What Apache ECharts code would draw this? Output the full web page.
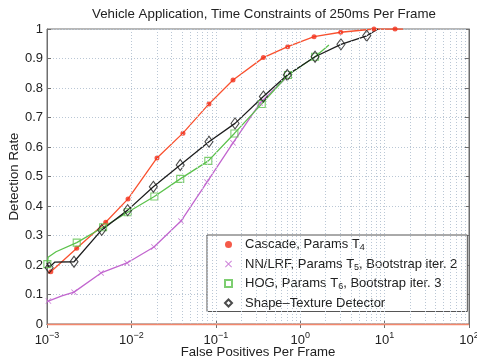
<!DOCTYPE html>
<html>
<head>
<meta charset="utf-8">
<script src="https://cdn.jsdelivr.net/npm/echarts@6/dist/echarts.min.js"></script>
<style>html,body{margin:0;padding:0;background:#fff}#c{width:477px;height:364px}</style>
</head>
<body>
<div id="c"></div>
<script>
// ---- data ----
const cascadePathX = [0.00103, 0.00111, 0.00225, 0.00496, 0.00912, 0.0201, 0.0408, 0.0830, 0.160, 0.366, 0.711, 1.46, 3.02, 7.48, 13.3, 16.5];
const cascadePathY = [0.172, 0.177, 0.257, 0.345, 0.424, 0.563, 0.647, 0.746, 0.827, 0.903, 0.940, 0.974, 0.989, 1.0, 1.0, 1.0];
const cascadeMarkX = [0.00111, 0.00225, 0.00496, 0.00912, 0.0201, 0.0408, 0.0830, 0.160, 0.366, 0.711, 1.46, 3.02, 7.48, 13.3];
const cascadeMarkY = [0.177, 0.257, 0.345, 0.424, 0.563, 0.647, 0.746, 0.827, 0.903, 0.940, 0.974, 0.989, 1.0, 1.0];

const nnPathX = [0.001, 0.00104, 0.0015, 0.00209, 0.00437, 0.00887, 0.0185, 0.0387, 0.0787, 0.160, 0.334, 0.698];
const nnPathY = [0.076, 0.078, 0.095, 0.108, 0.173, 0.207, 0.261, 0.349, 0.481, 0.614, 0.749, 0.837];
const nnMarkX = [0.00104, 0.00209, 0.00437, 0.00887, 0.0185, 0.0387, 0.0787, 0.160, 0.334];
const nnMarkY = [0.078, 0.108, 0.173, 0.207, 0.261, 0.349, 0.481, 0.614, 0.749];

const hogPathX = [0.00101, 0.00103, 0.00128, 0.00225, 0.00462, 0.00904, 0.0187, 0.0379, 0.0815, 0.166, 0.350, 0.716, 1.50, 2.19];
const hogPathY = [0.203, 0.226, 0.245, 0.276, 0.328, 0.379, 0.432, 0.492, 0.553, 0.646, 0.746, 0.844, 0.906, 0.946];
const hogMarkX = [0.00101, 0.00225, 0.00462, 0.00904, 0.0187, 0.0379, 0.0815, 0.166, 0.350, 0.716, 1.50];
const hogMarkY = [0.203, 0.276, 0.328, 0.379, 0.432, 0.492, 0.553, 0.646, 0.746, 0.844, 0.906];

const stPathX = [0.001, 0.00106, 0.00124, 0.00209, 0.00445, 0.00904, 0.0182, 0.0379, 0.0830, 0.169, 0.366, 0.703, 1.50, 3.04, 6.14, 8.36];
const stPathY = [0.207, 0.191, 0.210, 0.211, 0.319, 0.386, 0.465, 0.539, 0.618, 0.680, 0.771, 0.844, 0.906, 0.948, 0.977, 1.0];
const stMarkX = [0.00106, 0.00209, 0.00445, 0.00904, 0.0182, 0.0379, 0.0830, 0.169, 0.366, 0.703, 1.50, 3.04, 6.14];
const stMarkY = [0.191, 0.211, 0.319, 0.386, 0.465, 0.539, 0.618, 0.680, 0.771, 0.844, 0.906, 0.948, 0.977];

const seriesNames = ['Cascade, Params T4', 'NN/LRF, Params T5, Bootstrap iter. 2', 'HOG, Params T6, Bootstrap iter. 3', 'Shape\u2013Texture Detector'];
const legendRich = {
  'Cascade, Params T4': 'Cascade, Params T{sub|4}',
  'NN/LRF, Params T5, Bootstrap iter. 2': 'NN/LRF, Params T{sub|5}, Bootstrap iter. 2',
  'HOG, Params T6, Bootstrap iter. 3': 'HOG, Params T{sub|6}, Bootstrap iter. 3',
  'Shape\u2013Texture Detector': 'Shape\u2013Texture Detector'
};
const titleText = 'Vehicle Application, Time Constraints of 250ms Per Frame';
const xName = 'False Positives Per Frame';
const yName = 'Detection Rate';
const xMin = 0.001, xMax = 100;
const yTicks = [0, 0.1, 0.2, 0.3, 0.4, 0.5, 0.6, 0.7, 0.8, 0.9, 1];

// ---- build ----
const zip = (xs, ys) => xs.map((x, i) => [x, ys[i]]);
const gridX = [];
for (let d = -3; d <= 1; d++) for (let k = 1; k <= 9; k++) gridX.push(+(k * Math.pow(10, d)).toPrecision(3));
gridX.shift(); // skip the left border (10^-3)

const FONT = 'Liberation Sans';
const gridColor = '#bac7d5';
const colors = { red: '#f9512f', purple: '#c266cf', green: '#5cc24c', black: '#1e1e1e' };
const xMarkPath = 'path://M0,1 L1,0 L5,4 L9,0 L10,1 L6,5 L10,9 L9,10 L5,6 L1,10 L0,9 L4,5 Z';

function lineSeries(name, xs, ys, color, z) {
  return { name: name, type: 'line', data: zip(xs, ys), showSymbol: false, symbol: 'none',
    lineStyle: { color: color, width: 1.3 }, itemStyle: { color: color }, z: z, animation: false, silent: true };
}
function markSeries(name, xs, ys, sym, size, style, z) {
  return { name: name, type: 'scatter', data: zip(xs, ys), symbol: sym, symbolSize: size,
    itemStyle: style, z: z, animation: false, silent: true };
}

const option = {
  animation: false,
  textStyle: { fontFamily: FONT },
  title: { text: titleText, left: 259, top: 3, textAlign: 'center',
    textStyle: { fontFamily: FONT, fontSize: 13.3, fontWeight: 'normal', color: '#222' } },
  grid: { left: 47, right: 8, top: 29, bottom: 40, outerBoundsMode: 'none', containLabel: false,
    show: true, borderColor: '#6e6e6e', borderWidth: 1, backgroundColor: '#fff' },
  legend: {
    data: seriesNames, orient: 'vertical', left: 207, top: 235,
    backgroundColor: '#fff', borderColor: '#555', borderWidth: 1, padding: [3, 10, 2, 17],
    itemWidth: 7, itemHeight: 7, itemGap: 5,
    formatter: n => legendRich[n],
    textStyle: { fontFamily: FONT, fontSize: 13, color: '#222', padding: [0, 0, 0, 8],
      rich: { sub: { fontSize: 9, padding: [7, 0, 0, 0], fontFamily: FONT, color: '#222' } } }
  },
  xAxis: [{
    type: 'log', logBase: 10, min: xMin, max: xMax, position: 'bottom',
    name: xName, nameLocation: 'middle', nameGap: 22, nameMoveOverlap: false,
    nameTextStyle: { fontFamily: FONT, fontSize: 13.2, color: '#222' },
    axisLine: { show: true, lineStyle: { color: '#6e6e6e' } },
    axisTick: { show: true, inside: true, length: 4, lineStyle: { color: '#6e6e6e' } },
    axisLabel: { margin: 4, color: '#222',
      formatter: v => '{b|10}{s|' + Math.round(Math.log10(v)).toString().replace('-', '\u2212') + '}',
      rich: { b: { fontSize: 13, fontFamily: FONT, color: '#222', padding: [6, 0, 0, 0] },
              s: { fontSize: 9, fontFamily: FONT, color: '#222', padding: [0, 0, 4, 0] } } },
    splitLine: { show: false }
  }, {
    type: 'log', logBase: 10, min: xMin, max: xMax, position: 'top',
    axisLine: { show: true, lineStyle: { color: '#6e6e6e' } },
    axisTick: { show: true, inside: true, length: 4, lineStyle: { color: '#6e6e6e' } },
    axisLabel: { show: false }, splitLine: { show: false }
  }],
  yAxis: [{
    type: 'value', min: 0, max: 1, interval: 0.1, position: 'left',
    name: yName, nameLocation: 'middle', nameGap: 26, nameMoveOverlap: false,
    nameTextStyle: { fontFamily: FONT, fontSize: 13.3, color: '#222' },
    axisLine: { show: true, lineStyle: { color: '#6e6e6e' } },
    axisTick: { show: true, inside: true, length: 4, lineStyle: { color: '#6e6e6e' } },
    axisLabel: { margin: 4, fontSize: 13, fontFamily: FONT, color: '#222',
      formatter: v => yTicks.includes(+v.toFixed(1)) ? String(+v.toFixed(1)) : '' },
    splitLine: { show: true, lineStyle: { color: gridColor, type: [1, 2], width: 1 } }
  }, {
    type: 'value', min: 0, max: 1, interval: 0.1, position: 'right',
    axisLine: { show: true, lineStyle: { color: '#6e6e6e' } },
    axisTick: { show: true, inside: true, length: 4, lineStyle: { color: '#6e6e6e' } },
    axisLabel: { show: false }, splitLine: { show: false }
  }],
  series: [
    { name: 'x-grid', type: 'line', data: [], silent: true, z: 1, animation: false,
      markLine: { silent: true, symbol: ['none', 'none'], label: { show: false }, animation: false,
        lineStyle: { color: gridColor, type: [1, 2], width: 1 },
        data: gridX.map(v => ({ xAxis: v })) } },
    { name: 'zero-line', type: 'line', data: [], silent: true, z: 5, animation: false,
      markLine: { silent: true, symbol: ['none', 'none'], label: { show: false }, animation: false,
        lineStyle: { color: '#f2876c', type: 'solid', width: 1.3 },
        data: [{ yAxis: 0 }] } },
    lineSeries('cascade-line', cascadePathX, cascadePathY, colors.red, 3),
    lineSeries('nn-line', nnPathX, nnPathY, colors.purple, 3),
    lineSeries('hog-line', hogPathX, hogPathY, colors.green, 3),
    lineSeries('st-line', stPathX, stPathY, colors.black, 3),
    markSeries(seriesNames[0], cascadeMarkX, cascadeMarkY, 'circle', 5, { color: '#f2311c' }, 4),
    markSeries(seriesNames[1], nnMarkX, nnMarkY, xMarkPath, 6, { color: colors.purple }, 4),
    markSeries(seriesNames[2], hogMarkX, hogMarkY, 'rect', 7, { color: 'rgba(255,255,255,0)', borderColor: colors.green, borderWidth: 1.1 }, 4),
    markSeries(seriesNames[3], stMarkX, stMarkY, 'diamond', [8, 11], { color: 'rgba(255,255,255,0)', borderColor: colors.black, borderWidth: 1.1 }, 4)
  ]
};
const chart = echarts.init(document.getElementById('c'), null, { renderer: 'canvas' });
chart.setOption(option);
</script>
</body>
</html>
